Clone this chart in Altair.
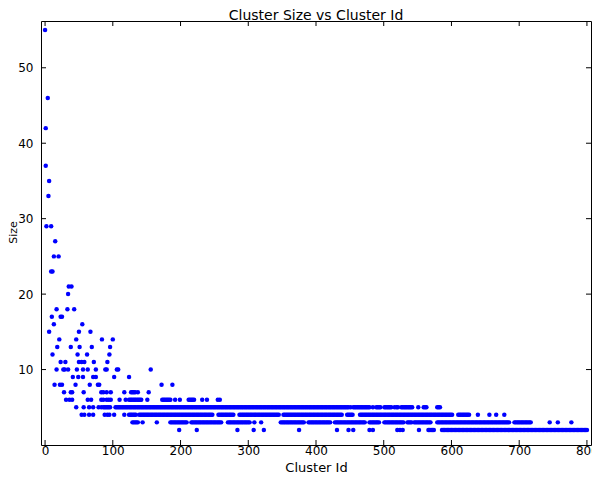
import altair as alt
import pandas as pd

# ---- data: for each size, the cluster ids seen at that size.
# An int is a single dot; a [a, b] pair is an unbroken run of dots from id a to id b.
size_rows = {
    55: [0],
    46: [4],
    42: [1],
    37: [1],
    35: [6],
    33: [5],
    29: [2, 9],
    27: [15],
    25: [13, 20],
    23: [9, 11],
    21: [35, 39],
    20: [34],
    18: [17, 33, 43],
    17: [10, 23, 25],
    16: [13, 55],
    15: [6, 50, 67],
    14: [21, 46, 84, 100],
    13: [18, 38, 51, 69, 96],
    12: [11, 48, 62, 95],
    11: [23, 30, 50, 54, 58, 72, 92],
    10: [17, 27, 29, 34, 47, 56, 63, 75, 89, 91, 106, 108, 156],
    9: [41, 49, 56, 71, 75, 102, 124],
    8: [14, 22, 25, 45, 66, 78, 80, 172, 188],
    7: [28, 38, 40, 57, 83, 86, 91, 97, 117, [127, 134], 137, 153],
    6: [31, 36, 40, 63, 68, 83, 86, 91, 94, 97, 110, 119, [124, 143], 151,
        [173, 185], 192, 199, [212, 221], 232, 239, 255, 258],
    5: [46, 57, 65, 71, 79, 83, [86, 97], [104, 448], 451, [455, 479], 484,
        [489, 496], [501, 511], 516, [519, 521], [526, 543], 551, [559, 564],
        [579, 584]],
    4: [54, 58, 65, 71, 88, 92, 95, 102, 117, [124, 134], [139, 248], [256, 278],
        [287, 345], [352, 438], [446, 455], [465, 601], [610, 627], 639, 656,
        666, 678],
    3: [[129, 137], 144, 165, [185, 209], [216, 260], [270, 302], 309, 319,
        [348, 382], [389, 421], [428, 472], [479, 494], [501, 530], [535, 542],
        [545, 569], [579, 686], [693, 718], 745, 757, 777],
    2: [198, 224, 284, 308, 323, 375, 431, 448, 455, 479, 484, 520, 524, 528,
        552, [566, 574], [586, 800]],
}

x_ticks = [0, 100, 200, 300, 400, 500, 600, 700, 800]
y_ticks = [10, 20, 30, 40, 50]
title_text = "Cluster Size vs Cluster Id"

ids, sizes = [], []
for s, items in size_rows.items():
    for it in items:
        if isinstance(it, list):
            for i in range(it[0], it[1] + 1, 2):
                ids.append(i)
                sizes.append(s)
        else:
            ids.append(it)
            sizes.append(s)

df = pd.DataFrame({"id": ids, "size": sizes})
xt = pd.DataFrame({"id": x_ticks})
yt = pd.DataFrame({"size": y_ticks})
tt = pd.DataFrame({"t": [title_text]})

W, H = 550, 424
xs = alt.Scale(domain=[-6, 806], nice=False, zero=False)
ys = alt.Scale(domain=[0, 56.2], nice=False, zero=False)

xaxis = alt.Axis(title="Cluster Id", values=x_ticks, labelPadding=0, labelFontSize=12,
                 titleFontSize=13, titleX=W / 2, titleY=26, titleBaseline="alphabetic")
yaxis = alt.Axis(title="Size", values=y_ticks, labelPadding=8, labelFontSize=12,
                 titleFontSize=11, titleX=-25, titleY=211, titleBaseline="alphabetic")

points = alt.Chart(df).mark_circle(size=20, color="#0000ff", opacity=1).encode(
    x=alt.X("id:Q", scale=xs, axis=xaxis),
    y=alt.Y("size:Q", scale=ys, axis=yaxis),
)

tick_len = 5
xtick_bottom = alt.Chart(xt).mark_rule(color="black", strokeWidth=1).encode(
    x=alt.X("id:Q", scale=xs, axis=xaxis), y=alt.value(H), y2=alt.value(H - tick_len))
xtick_top = alt.Chart(xt).mark_rule(color="black", strokeWidth=1).encode(
    x=alt.X("id:Q", scale=xs, axis=xaxis), y=alt.value(0), y2=alt.value(tick_len))
ytick_left = alt.Chart(yt).mark_rule(color="black", strokeWidth=1).encode(
    y=alt.Y("size:Q", scale=ys, axis=yaxis), x=alt.value(0), x2=alt.value(tick_len))
ytick_right = alt.Chart(yt).mark_rule(color="black", strokeWidth=1).encode(
    y=alt.Y("size:Q", scale=ys, axis=yaxis), x=alt.value(W), x2=alt.value(W - tick_len))

title = alt.Chart(tt).mark_text(
    font="DejaVu Sans", fontSize=14, color="black", baseline="alphabetic", align="center"
).encode(text="t:N", x=alt.value(W / 2), y=alt.value(-1.5))

chart = alt.layer(points, xtick_bottom, xtick_top, ytick_left, ytick_right, title).properties(
    width=W, height=H,
    autosize=alt.AutoSizeParams(type="none"),
    padding={"left": 33, "top": 13, "right": 1, "bottom": 29},
).configure_view(
    stroke="black", strokeWidth=1
).configure_axis(
    domain=False, ticks=False, grid=False,
    labelFont="DejaVu Sans", titleFont="DejaVu Sans", labelColor="black",
    titleColor="black", titleFontWeight="normal",
)

chart.save("out.html", embed_options={"renderer": "svg", "actions": False})
